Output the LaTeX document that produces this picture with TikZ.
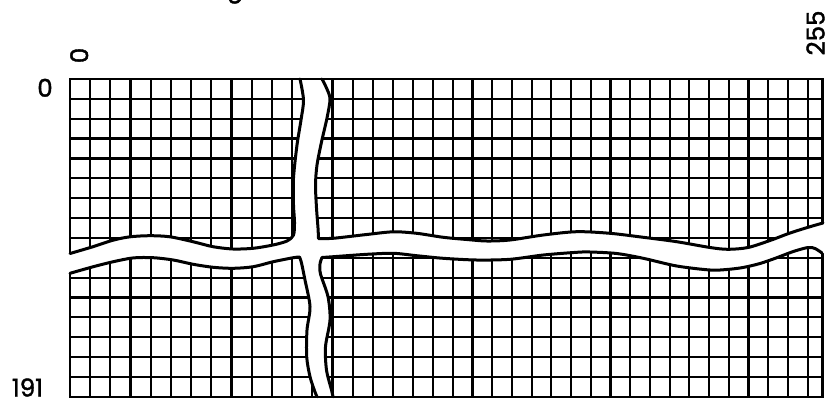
\documentclass[tikz,border=0pt]{standalone}
\usepackage{fontspec}
\setmainfont{Poppins}
\newfontfamily\lblfont[FakeBold=1.6]{Poppins}
\begin{document}
\begin{tikzpicture}[x=1pt,y=-1pt,
  gridline/.style={line width=2.2pt, black},
  roadedge/.style={line width=3pt, black, line join=round, line cap=round},
  lbl/.style={inner sep=0pt, font=\lblfont\fontsize{24.5}{24.5}\selectfont}]
\useasboundingbox (0,0) rectangle (826,399);
% grid
\foreach \i in {0,...,17} \draw[gridline] ({70+20.19*\i},79) -- ({70+20.19*\i},396.8);
\foreach \i in {1,...,20} \draw[gridline] ({413.3+19.72*\i},79) -- ({413.3+19.72*\i},396.8);
\foreach \j in {0,...,16} \draw[gridline] (70,{79+19.86*\j}) -- (822.5,{79+19.86*\j});
\draw[gridline, line join=miter] (70,79) rectangle (822.5,396.8);
% road surface
\fill[white] (64,253.5)
 -- plot[smooth] coordinates {(70,253.5) (93,246.7) (113,240.2) (130,236.8) (150,235.7) (170,236.8) (193,241.7) (213,246.7) (233,249) (253,248.3) (273,245) (287,241) (293.5,235) (294.5,222) (293.5,205) (293.5,178) (297,145) (301,120) (303.5,100) (300,79)}
 -- plot[smooth] coordinates {(322,79) (326.5,88) (330,99) (327,118) (321.5,142) (317,165) (315.5,185) (316.5,208) (318,228) (318.5,238.5)}
 -- plot[smooth] coordinates {(318.5,238.5) (333,238.3) (366.7,234.5) (393.3,231.8) (416.7,233.3) (443.3,237.3) (466.7,239.5) (486.7,241) (510,240) (543.3,235) (576.7,231.7) (610,233.3) (643.3,237.3) (676.7,241.7) (710,247.5) (728,249.3) (748,247.5) (770,240.5) (790,233) (810,226.7) (823,223)}
 -- (830,223) -- (830,253)
 -- plot[smooth] coordinates {(822,253) (815,248.5) (808,247.5) (793.3,251.5) (776,258) (760,263.5) (743,267.5) (726.7,269.5) (710,270) (676.7,266) (643.3,258.3) (616.7,253.5) (590,252) (576.7,252.3) (543.3,255) (510,259.3) (476.7,260) (443.3,258.3) (416.7,255.7) (393.3,253.3) (366.7,254.3) (333.3,256.7) (322,257.5)}
 -- plot[smooth] coordinates {(322,257.5) (320,264) (320.5,274) (328,296.7) (330,320) (325.5,346.7) (326.5,370) (331.5,390) (333,396.8)}
 -- plot[smooth] coordinates {(317,396.8) (315,392) (310,376.7) (306.7,356.7) (307,330) (310,306.7) (305,280) (301.5,263) (299.5,257)}
 -- plot[smooth] coordinates {(299.5,257) (293.3,257.7) (273.3,261.7) (253.3,266.7) (233.3,268.3) (213.3,267.3) (193.3,264.3) (173.3,260) (153.3,257.7) (133.3,257.9) (113.3,261.7) (93.3,266.7) (70,273.3)}
 -- (64,273.3) -- cycle;
% frame across the vertical road
\draw[gridline] (285,79) -- (340,79);
\draw[gridline] (295,396.8) -- (345,396.8);
% road edges
\draw[roadedge] plot[smooth] coordinates {(70,253.5) (93,246.7) (113,240.2) (130,236.8) (150,235.7) (170,236.8) (193,241.7) (213,246.7) (233,249) (253,248.3) (273,245) (287,241) (293.5,235) (294.5,222) (293.5,205) (293.5,178) (297,145) (301,120) (303.5,100) (300,79)};
\draw[roadedge] plot[smooth] coordinates {(322,79) (326.5,88) (330,99) (327,118) (321.5,142) (317,165) (315.5,185) (316.5,208) (318,228) (318.5,238.5)}
 -- plot[smooth] coordinates {(318.5,238.5) (333,238.3) (366.7,234.5) (393.3,231.8) (416.7,233.3) (443.3,237.3) (466.7,239.5) (486.7,241) (510,240) (543.3,235) (576.7,231.7) (610,233.3) (643.3,237.3) (676.7,241.7) (710,247.5) (728,249.3) (748,247.5) (770,240.5) (790,233) (810,226.7) (823,223)};
\draw[roadedge] plot[smooth] coordinates {(822,253) (815,248.5) (808,247.5) (793.3,251.5) (776,258) (760,263.5) (743,267.5) (726.7,269.5) (710,270) (676.7,266) (643.3,258.3) (616.7,253.5) (590,252) (576.7,252.3) (543.3,255) (510,259.3) (476.7,260) (443.3,258.3) (416.7,255.7) (393.3,253.3) (366.7,254.3) (333.3,256.7) (322,257.5)}
 -- plot[smooth] coordinates {(322,257.5) (320,264) (320.5,274) (328,296.7) (330,320) (325.5,346.7) (326.5,370) (331.5,390) (333,396.8)};
\draw[roadedge] plot[smooth] coordinates {(70,273.3) (93.3,266.7) (113.3,261.7) (133.3,257.9) (153.3,257.7) (173.3,260) (193.3,264.3) (213.3,267.3) (233.3,268.3) (253.3,266.7) (273.3,261.7) (293.3,257.7) (299.5,257)}
 -- plot[smooth] coordinates {(299.5,257) (301.5,263) (305,280) (310,306.7) (307,330) (306.7,356.7) (310,376.7) (315,392) (317,396.8)};
% labels
\node[lbl, anchor=base] (capfrag) at (235,-3) {g};
\node[lbl] (ylab0) at (45,87.8) {0};
\node[lbl] (ylab191) at (27.5,387.5) {191};
\node[lbl, rotate=90] (xlab0) at (79.2,55.5) {0};
\node[lbl, rotate=90] (xlab255) at (815.5,33) {255};
\end{tikzpicture}
\end{document}
